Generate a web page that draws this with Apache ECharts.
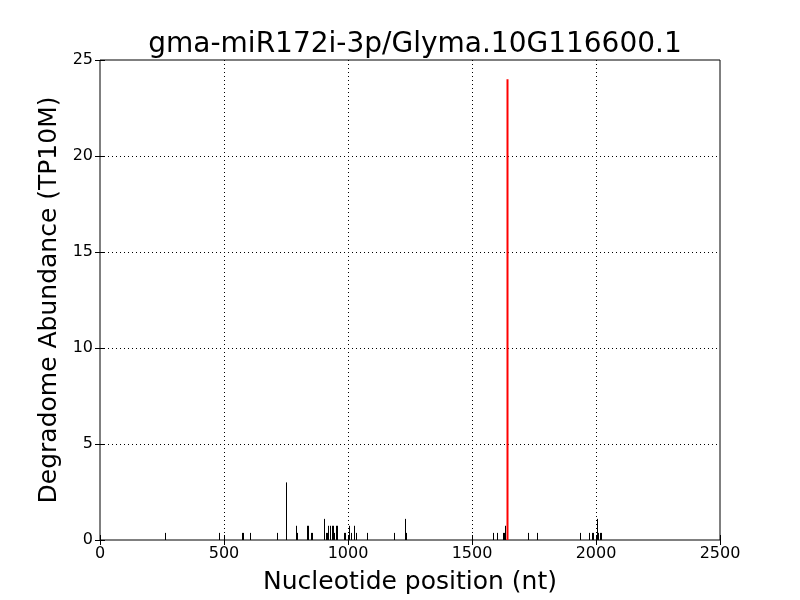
<!DOCTYPE html>
<html><head><meta charset="utf-8">
<script src="https://cdn.jsdelivr.net/npm/echarts@6/dist/echarts.min.js"></script>
<style>html,body{margin:0;padding:0;background:#fff}#c{width:800px;height:600px}</style>
</head><body><div id="c"></div>
<script>
const titleText = "gma-miR172i-3p/Glyma.10G116600.1";
const xTicks = [0, 500, 1000, 1500, 2000, 2500];
const yTicks = [0, 5, 10, 15, 20, 25];
const blackPos = [263,480,573,578,606,715,751,790,793,835,840,850,856,905,911,915,921,927,934,941,945,950,957,983,987,1005,1012,1024,1031,1075,1187,1228,1231,1235,1584,1600,1627,1630,1634,1727,1764,1937,1973,1982,1986,2003,2005,2008,2017,2020];
const blackVal = [0.37,0.37,0.37,0.37,0.37,0.37,3.0,0.74,0.37,0.74,0.74,0.37,0.37,1.1,0.37,0.37,0.74,0.74,0.74,0.74,0.37,0.74,0.74,0.37,0.37,0.74,0.37,0.74,0.37,0.37,0.37,0.37,1.1,0.37,0.37,0.37,0.37,0.37,0.74,0.37,0.37,0.37,0.37,0.37,0.37,0.74,1.1,0.37,0.37,0.37];
const redPos = [1642];
const redVal = [24];

const F = "DejaVu Sans";
function stems(pos, val, color, width, z) {
  return {
    type: 'custom', z: z,
    data: pos.map((p, i) => [p, val[i]]),
    renderItem: function (params, api) {
      const a = api.coord([api.value(0), 0]);
      const b = api.coord([api.value(0), api.value(1)]);
      return { type: 'line', shape: { x1: Math.round(a[0]) + 0.5, y1: a[1], x2: Math.round(b[0]) + 0.5, y2: b[1] },
        style: { stroke: color, lineWidth: width } };
    }
  };
}
const chart = echarts.init(document.getElementById('c'), null, { renderer: 'canvas' });
const axisCommon = {
  axisLine: { show: false },
  axisTick: { show: true, inside: true, length: 5, lineStyle: { color: '#000' } },
  splitLine: { show: true, showMinLine: false, showMaxLine: false, lineStyle: { color: '#000', type: [1, 3], width: 1 } }
};
const xLabels = xTicks.map(String);
const yLabels = yTicks.map(String);
chart.setOption({
  animation: false,
  title: { text: titleText, left: 410, top: 26, textAlign: 'center',
    textStyle: { fontFamily: F, fontSize: 28, fontWeight: 'normal', color: '#000' } },
  grid: { left: 100, right: 80, top: 60, bottom: 60, show: true, borderColor: '#000', borderWidth: 1, backgroundColor: 'transparent' },
  xAxis: [
    Object.assign({}, axisCommon, { type: 'value', min: 0, max: 2500, interval: 500,
      name: 'Nucleotide position (nt)', nameLocation: 'middle', nameGap: 30,
      nameTextStyle: { fontFamily: F, fontSize: 25, color: '#000' },
      axisLabel: { fontFamily: F, fontSize: 16, color: '#000', margin: 6,
        formatter: v => xLabels[xTicks.indexOf(v)] } }),
    { type: 'value', position: 'top', min: 0, max: 2500, interval: 500,
      axisLine: { show: false }, axisLabel: { show: false }, splitLine: { show: false },
      axisTick: { show: true, inside: true, length: 5, lineStyle: { color: '#000' } } }
  ],
  yAxis: [
    Object.assign({}, axisCommon, { type: 'value', min: 0, max: 25, interval: 5,
      name: 'Degradome Abundance (TP10M)', nameLocation: 'middle', nameGap: 32,
      nameTextStyle: { fontFamily: F, fontSize: 25, color: '#000' },
      axisLabel: { fontFamily: F, fontSize: 16, color: '#000', margin: 7,
        formatter: v => yLabels[yTicks.indexOf(v)] } }),
    { type: 'value', position: 'right', min: 0, max: 25, interval: 5,
      axisLine: { show: false }, axisLabel: { show: false }, splitLine: { show: false },
      axisTick: { show: true, inside: true, length: 5, lineStyle: { color: '#000' } } }
  ],
  series: [
    stems(blackPos, blackVal, '#000', 1, 3),
    stems(redPos, redVal, '#ff0000', 2, 4)
  ]
});
</script></body></html>
